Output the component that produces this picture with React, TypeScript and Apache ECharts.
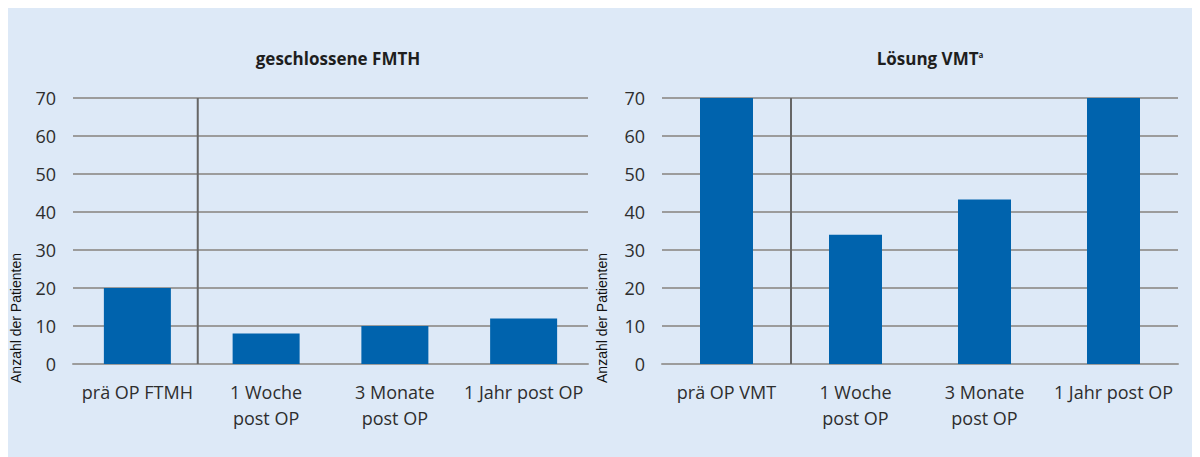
import React, { useEffect, useRef } from "react";
import * as echarts from "echarts";

const leftTitle = "geschlossene FMTH";
const rightTitle = "Lösung VMT";
const rightTitleSup = "a";
const yAxisName = "Anzahl der Patienten";
const leftCategories = ["prä OP FTMH", "1 Woche\npost OP", "3 Monate\npost OP", "1 Jahr post OP"];
const rightCategories = ["prä OP VMT", "1 Woche\npost OP", "3 Monate\npost OP", "1 Jahr post OP"];
const leftValues = [20, 8, 10, 12];
const rightValues = [70, 34, 43.3, 70];
const yMin = 0;
const yMax = 70;
const yInterval = 10;

const BAR = "#0063ad";
const GRID = "#9c9c9c";
const TEXT = "#2e2e2e";
const FONT = "'Open Sans', 'Noto Sans', sans-serif";

export default function App() {
  const ref = useRef<HTMLDivElement>(null);
  useEffect(() => {
    if (!ref.current) return;
    const chart = echarts.init(ref.current, undefined, { renderer: "svg" });
    const grids = [
      { left: 65, top: 90, width: 515, height: 266 },
      { left: 654, top: 90, width: 516, height: 266 },
    ];
    const xAxisCommon = {
      type: "category" as const,
      axisTick: { show: false },
      axisLine: { show: true, lineStyle: { color: GRID, width: 2 } },
      axisLabel: {
        interval: 0,
        margin: 15,
        color: TEXT,
        fontFamily: FONT,
        fontSize: 18,
        lineHeight: 26,
      },
    };
    const yAxisCommon = {
      type: "value" as const,
      min: yMin,
      max: yMax,
      interval: yInterval,
      axisLine: { show: false },
      axisTick: { show: false },
      splitLine: { show: true, lineStyle: { color: GRID, width: 2 } },
      axisLabel: { margin: 17, color: TEXT, fontFamily: FONT, fontSize: 18 },
    };
    chart.setOption({
      animation: false,
      backgroundColor: "#dde9f7",
      title: [
        {
          text: leftTitle,
          left: 325,
          top: 37,
          textAlign: "center",
          textStyle: { fontFamily: FONT, fontWeight: "bold", fontSize: 17, color: "#1e1e1e" },
        },
        {
          text: `${rightTitle}{sup|${rightTitleSup}}`,
          left: 917,
          top: 37,
          textAlign: "center",
          textStyle: {
            fontFamily: FONT,
            fontWeight: "bold",
            fontSize: 17,
            color: "#1e1e1e",
            rich: {
              sup: { fontFamily: FONT, fontWeight: "bold", fontSize: 8, color: "#1e1e1e", verticalAlign: "top", padding: [0, 0, 8, 0] },
            },
          },
        },
      ],
      grid: grids,
      xAxis: [
        { ...xAxisCommon, gridIndex: 0, data: leftCategories },
        { ...xAxisCommon, gridIndex: 1, data: rightCategories },
      ],
      yAxis: [
        { ...yAxisCommon, gridIndex: 0 },
        { ...yAxisCommon, gridIndex: 1 },
      ],
      series: [
        { type: "bar", xAxisIndex: 0, yAxisIndex: 0, data: leftValues, barWidth: 67, itemStyle: { color: BAR }, z: 3 },
        { type: "bar", xAxisIndex: 1, yAxisIndex: 1, data: rightValues, barWidth: 53, itemStyle: { color: BAR }, z: 3 },
      ],
    });
    const graphics: any[] = [];
    [0, 1].forEach((gi) => {
      const p0 = chart.convertToPixel({ xAxisIndex: gi, yAxisIndex: gi } as any, [0, yMin]) as number[];
      const p1 = chart.convertToPixel({ xAxisIndex: gi, yAxisIndex: gi } as any, [1, yMax]) as number[];
      const x = (p0[0] + p1[0]) / 2 - (gi === 0 ? 4 : 0);
      graphics.push({
        type: "line",
        shape: { x1: x, y1: p0[1], x2: x, y2: p1[1] },
        style: { stroke: "#666", lineWidth: 2 },
        z: 10,
      });
      graphics.push({
        type: "text",
        x: gi === 0 ? 8 : 594,
        y: 310,
        rotation: Math.PI / 2,
        style: {
          text: yAxisName,
          fill: "#111",
          font: "14px 'Liberation Sans', Arial, sans-serif",
          align: "center",
          verticalAlign: "middle",
        },
      });
    });
    chart.setOption({ graphic: graphics });
    return () => chart.dispose();
  }, []);
  return <div ref={ref} style={{ width: 1192, height: 449 }} />;
}
